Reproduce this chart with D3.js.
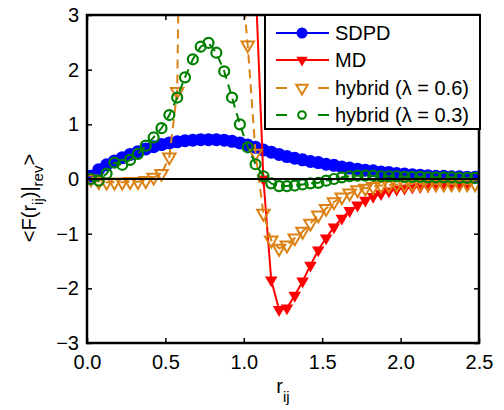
<!DOCTYPE html>
<html><head><meta charset="utf-8">
<script src="https://cdn.jsdelivr.net/npm/d3@7"></script>
<style>body{margin:0;background:#fff}svg{display:block}text{font-family:"Liberation Sans",Arial,sans-serif}</style>
</head><body>
<script>
// r_ij bin centres
const r = [0.025,0.075,0.125,0.175,0.225,0.275,0.325,0.375,0.425,0.475,
           0.525,0.575,0.625,0.675,0.725,0.775,0.825,0.875,0.925,0.975,
           1.025,1.075,1.125,1.175,1.225,1.275,1.325,1.375,1.425,1.475,
           1.525,1.575,1.625,1.675,1.725,1.775,1.825,1.875,1.925,1.975,
           2.025,2.075,2.125,2.175,2.225,2.275,2.325,2.375,2.425,2.475];
const sdpd = [0.05,0.17,0.26,0.33,0.39,0.45,0.50,0.55,0.59,0.63,
              0.66,0.68,0.70,0.71,0.72,0.72,0.72,0.71,0.69,0.66,
              0.62,0.58,0.53,0.49,0.45,0.41,0.38,0.35,0.32,0.30,
              0.27,0.25,0.22,0.20,0.18,0.16,0.15,0.13,0.12,0.10,
              0.09,0.08,0.07,0.06,0.05,0.05,0.04,0.04,0.03,0.03];
// MD: no data below r = 1.075 (values above the axis are off-chart)
const mdR = r.slice(21);
const md = [3.6,0.0,-1.85,-2.39,-2.36,-2.13,-1.87,-1.58,-1.30,
            -1.08,-0.88,-0.72,-0.58,-0.48,-0.39,-0.32,-0.27,-0.22,-0.19,
            -0.17,-0.15,-0.14,-0.13,-0.12,-0.12,-0.11,-0.11,-0.11];
const hyb06 = [0.0,-0.05,-0.06,-0.06,-0.06,-0.05,-0.05,-0.03,0.03,0.10,
               0.40,1.60,12,22,28,28,24,16,8,4.0,
               2.45,0.47,-0.63,-1.12,-1.27,-1.21,-1.08,-0.96,-0.81,-0.66,
               -0.54,-0.42,-0.33,-0.26,-0.20,-0.17,-0.14,-0.12,-0.11,-0.10,
               -0.10,-0.09,-0.09,-0.09,-0.09,-0.09,-0.09,-0.09,-0.09,-0.09];
const hyb03 = [0.0,-0.03,0.10,0.30,0.26,0.35,0.46,0.61,0.76,0.93,
               1.17,1.49,1.86,2.19,2.42,2.49,2.31,1.97,1.49,1.00,
               0.58,0.27,0.05,-0.08,-0.13,-0.13,-0.12,-0.10,-0.08,-0.07,
               -0.03,0.00,0.03,0.05,0.06,0.06,0.06,0.05,0.05,0.05,
               0.04,0.04,0.04,0.03,0.03,0.03,0.03,0.02,0.02,0.02];
const xTicks = [0,0.5,1,1.5,2,2.5];
const yTicks = [-3,-2,-1,0,1,2,3];
const legendLabels = ["SDPD","MD","hybrid (\u03bb = 0.6)","hybrid (\u03bb = 0.3)"];

const W=504,H=410, L=87,R=479,T=15,B=343;
const svg=d3.select("body").append("svg").attr("width",W).attr("height",H);
const x=d3.scaleLinear([0,2.5],[L,R]);
const y=d3.scaleLinear([-3,3],[B,T]);

svg.append("clipPath").attr("id","clip").append("rect")
  .attr("x",L).attr("y",T).attr("width",R-L).attr("height",B-T);
const g=svg.append("g").attr("clip-path","url(#clip)");

const BLUE="#0000ff",RED="#ff0000",ORANGE="#dc8214",GREEN="#008000";
const line=d3.line().x(d=>x(d[0])).y(d=>y(d[1]));
const zip=(a,b)=>a.map((v,i)=>[v,b[i]]);
const triDown=d3.symbol(d3.symbolTriangle,68);
const triLeg=d3.symbol(d3.symbolTriangle,56);

// SDPD
const dS=zip(r,sdpd);
g.append("path").attr("d",line(dS)).attr("fill","none").attr("stroke",BLUE).attr("stroke-width",2);
g.selectAll(".s").data(dS).join("circle").attr("cx",d=>x(d[0])).attr("cy",d=>y(d[1])).attr("r",6.5).attr("fill",BLUE);
// MD
const dM=zip(mdR,md);
g.append("path").attr("d",line(dM)).attr("fill","none").attr("stroke",RED).attr("stroke-width",2);
g.selectAll(".m").data(dM).join("path").attr("d",triDown)
  .attr("transform",d=>`translate(${x(d[0])},${y(d[1])}) rotate(180)`).attr("fill",RED);
// hybrid 0.6
const dH6=zip(r,hyb06);
g.append("path").attr("d",line(dH6)).attr("fill","none").attr("stroke",ORANGE).attr("stroke-width",2).attr("stroke-dasharray","9,6");
g.selectAll(".h6").data(dH6).join("path").attr("d",triDown)
  .attr("transform",d=>`translate(${x(d[0])},${y(d[1])}) rotate(180)`).attr("fill","none").attr("stroke",ORANGE).attr("stroke-width",2);
// hybrid 0.3
const dH3=zip(r,hyb03);
g.append("path").attr("d",line(dH3)).attr("fill","none").attr("stroke",GREEN).attr("stroke-width",2).attr("stroke-dasharray","9,6");
g.selectAll(".h3").data(dH3).join("circle").attr("cx",d=>x(d[0])).attr("cy",d=>y(d[1])).attr("r",5)
  .attr("fill","none").attr("stroke",GREEN).attr("stroke-width",2.2);

// zero line
svg.append("line").attr("x1",L).attr("x2",R).attr("y1",y(0)).attr("y2",y(0)).attr("stroke","#000").attr("stroke-width",2);

// axes
const fs=20;
const ax=(gen,tr)=>{const a=svg.append("g").attr("transform",tr).call(gen);
  a.select(".domain").remove(); a.selectAll("line").attr("stroke","#000").attr("stroke-width",1.5);
  a.selectAll("text").attr("font-size",fs).attr("fill","#000").attr("font-family","Liberation Sans, Arial, sans-serif"); return a;};
ax(d3.axisBottom(x).tickValues(xTicks).tickFormat(d3.format(".1f")).tickSizeInner(-5).tickSizeOuter(0).tickPadding(12),`translate(0,${B})`);
ax(d3.axisTop(x).tickValues(xTicks).tickFormat("").tickSizeInner(-5).tickSizeOuter(0),`translate(0,${T})`);
ax(d3.axisLeft(y).tickValues(yTicks).tickFormat(d3.format("d")).tickSizeInner(-5).tickSizeOuter(0).tickPadding(8),`translate(${L},0)`);
ax(d3.axisRight(y).tickValues(yTicks).tickFormat("").tickSizeInner(-5).tickSizeOuter(0),`translate(${R},0)`);
svg.append("rect").attr("x",L).attr("y",T).attr("width",R-L).attr("height",B-T).attr("fill","none").attr("stroke","#000").attr("stroke-width",2.5);

// axis labels
const xl=svg.append("text").attr("x",283).attr("y",393).attr("text-anchor","middle").attr("font-size",fs);
xl.append("tspan").text("r");
xl.append("tspan").attr("font-size",15).attr("dy",9).text("ij");
const yl=svg.append("text").attr("transform","translate(36,198) rotate(-90)").attr("text-anchor","middle").attr("font-size",fs);
yl.append("tspan").text("<F(r");
yl.append("tspan").attr("font-size",15).attr("dy",7).text("ij");
yl.append("tspan").attr("dy",-7).text(")|");
yl.append("tspan").attr("font-size",15).attr("dy",7).text("rev");
yl.append("tspan").attr("dy",-7).text(">");

// legend
const lg=svg.append("g");
lg.append("rect").attr("x",265).attr("y",T).attr("width",R+1-265).attr("height",114).attr("fill","#fff").attr("stroke","#000").attr("stroke-width",2);
const rows=[33,60,88,115];
const styles=[{c:BLUE,dash:null,m:"c",fill:BLUE},{c:RED,dash:null,m:"t",fill:RED},{c:ORANGE,dash:"11,31",m:"t",fill:"none"},{c:GREEN,dash:"11,31",m:"o",fill:"none"}];
legendLabels.forEach((lab,i)=>{
  const s=styles[i],yy=rows[i];
  const ln=lg.append("line").attr("x1",276).attr("x2",329).attr("y1",yy).attr("y2",yy).attr("stroke",s.c).attr("stroke-width",2);
  if(s.dash) ln.attr("stroke-dasharray",s.dash);
  if(s.m==="c") lg.append("circle").attr("cx",302).attr("cy",yy).attr("r",5.5).attr("fill",s.c);
  else if(s.m==="o") lg.append("circle").attr("cx",302).attr("cy",yy).attr("r",3.8).attr("fill","none").attr("stroke",s.c).attr("stroke-width",2);
  else lg.append("path").attr("d",triLeg).attr("transform",`translate(302,${yy}) rotate(180)`).attr("fill",s.fill).attr("stroke",s.c).attr("stroke-width",s.fill==="none"?2:0);
  lg.append("text").attr("x",335).attr("y",yy+7).attr("font-size",fs).text(lab);
});
</script>
</body></html>
